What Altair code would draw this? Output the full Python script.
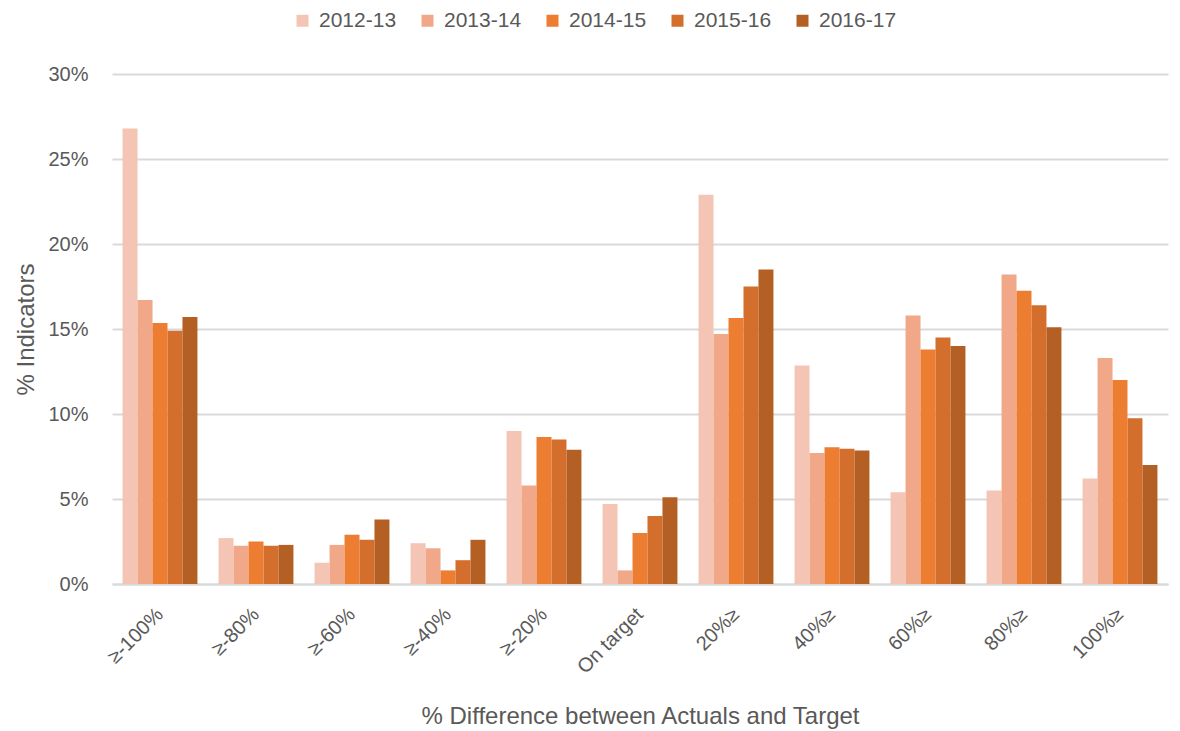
import altair as alt
import pandas as pd

categories = ["≥-100%", "≥-80%", "≥-60%", "≥-40%", "≥-20%", "On target",
              "20%≥", "40%≥", "60%≥", "80%≥", "100%≥"]
years = ["2012-13", "2013-14", "2014-15", "2015-16", "2016-17"]

v_2012_13 = [26.8, 2.7, 1.25, 2.4, 9.0, 4.7, 22.9, 12.85, 5.4, 5.5, 6.2]
v_2013_14 = [16.7, 2.25, 2.3, 2.1, 5.8, 0.8, 14.7, 7.7, 15.8, 18.2, 13.3]
v_2014_15 = [15.35, 2.5, 2.9, 0.8, 8.65, 3.0, 15.65, 8.05, 13.8, 17.25, 12.0]
v_2015_16 = [14.9, 2.25, 2.6, 1.4, 8.5, 4.0, 17.5, 7.95, 14.5, 16.4, 9.75]
v_2016_17 = [15.7, 2.3, 3.8, 2.6, 7.9, 5.1, 18.5, 7.85, 14.0, 15.1, 7.0]

y_ticks = [0, 5, 10, 15, 20, 25, 30]
colors = ["#F4C5B5", "#F0A889", "#ED7D31", "#D46E2C", "#B45F24"]

series = [v_2012_13, v_2013_14, v_2014_15, v_2015_16, v_2016_17]
rows = []
for yr, vals in zip(years, series):
    for cat, v in zip(categories, vals):
        rows.append({"category": cat, "year": yr, "value": v})
df = pd.DataFrame(rows)

FONT = "Liberation Sans"
TXT = "#595959"
GRID = "#D9D9D9"

chart = alt.Chart(df).mark_bar().encode(
    x=alt.X(
        "category:N",
        sort=categories,
        scale=alt.Scale(paddingInner=0.22, paddingOuter=0.11),
        axis=alt.Axis(
            title="% Difference between Actuals and Target",
            labelAngle=-45,
            labelAlign="right",
            labelBaseline="middle",
            labelPadding=27,
            ticks=False,
            tickSize=0,
            domainColor=GRID,
            domainWidth=2,
            labelColor=TXT,
            labelFont=FONT,
            labelFontSize=20,
            titleColor=TXT,
            titleFont=FONT,
            titleFontSize=24,
            titleFontWeight="normal",
            titleY=132,
            titleBaseline="middle",
        ),
    ),
    xOffset=alt.XOffset("year:N", sort=years,
                        scale=alt.Scale(paddingInner=0, paddingOuter=0)),
    y=alt.Y(
        "value:Q",
        scale=alt.Scale(domain=[0, 30], nice=False),
        axis=alt.Axis(
            values=y_ticks,
            labelExpr="datum.value + '%'",
            title="% Indicators",
            ticks=False,
            tickSize=0,
            domain=False,
            gridColor=GRID,
            gridWidth=2,
            labelPadding=24,
            labelColor=TXT,
            labelFont=FONT,
            labelFontSize=20,
            titleColor=TXT,
            titleFont=FONT,
            titleFontSize=24,
            titleFontWeight="normal",
            titlePadding=9,
        ),
    ),
    color=alt.Color(
        "year:N",
        sort=years,
        scale=alt.Scale(domain=years, range=colors),
        legend=alt.Legend(
            title=None,
            orient="none",
            legendX=180,
            legendY=-64,
            direction="horizontal",
            symbolType="square",
            symbolSize=144,
            symbolStrokeWidth=0,
            labelOffset=6,
            columnPadding=20,
            labelColor=TXT,
            labelFont=FONT,
            labelFontSize=21,
        ),
    ),
).properties(
    width=1056,
    height=510,
    autosize=alt.AutoSizeParams(type="none"),
    padding={"left": 104, "top": 66, "right": 4, "bottom": 147},
).configure_view(stroke=None)

chart.save("out.html", embed_options={"renderer": "svg", "actions": False})
